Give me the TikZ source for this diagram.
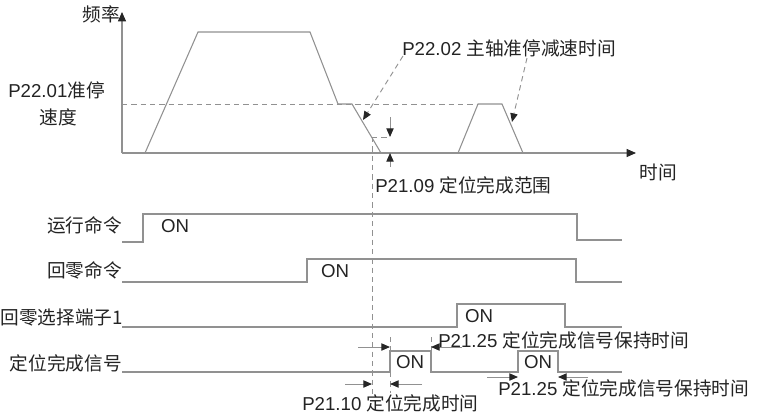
\documentclass[tikz,border=0pt]{standalone}
\usepackage{fontspec}
\setmainfont{Liberation Sans}
\newfontfamily\cjk{Noto Sans CJK SC}
\usetikzlibrary{arrows.meta,positioning,calc}
\definecolor{LineGray}{RGB}{145,145,145}
\definecolor{TextDark}{RGB}{35,35,35}
\tikzset{
  sig/.style={draw=LineGray,line width=0.8pt},
  guide/.style={draw=LineGray,line width=0.7pt,dash pattern=on 4pt off 3pt},
  arr/.style={-{Triangle[length=6.5pt,width=5.5pt,color=black!85]},
              draw=LineGray,line width=0.7pt},
  darr/.style={arr,dash pattern=on 4pt off 3pt},
  lbl/.style={text=TextDark,font=\fontsize{14}{16}\selectfont,inner sep=0pt},
}

\begin{document}
\begin{tikzpicture}[x=0.75pt,y=-0.75pt]
        \useasboundingbox (0,0) rectangle (760,415);
        \coordinate (o) at (122,153);
        \coordinate (ytop) at (122,12);
        \coordinate (xend) at (636,153);
        \draw[sig,-{Triangle[length=7pt,width=6pt,color=black!85]}] (o)--(ytop);
        \draw[sig,-{Triangle[length=7pt,width=6pt,color=black!85]}] (o)--(xend);
        \node[lbl,anchor=east] (freq) at (120,14) {\cjk 频率};
        \node[lbl] (time) at (658,172) {\cjk 时间};
        \node[lbl,anchor=west] (spd) at (8,90) {P22.01{\cjk 准停}};
        \node[lbl] (spd2) at (58,117) {\cjk 速度};
        \draw[guide] (o|-0,104)--(478,104);
        \draw[sig] (145,153)--(198,32)--(310,32)--(338,104)--(352,104)
                   --(381,153);
        \draw[sig] (458,153)--(478,104)--(502,104)--(523,153);
        \node[lbl,anchor=west] (dec) at (402,48) {P22.02 {\cjk 主轴准停减速时间}};
        \coordinate (decA) at (363,120);
        \coordinate (decB) at (512,122);
        \draw[darr] (403,56)--(decA);
        \draw[darr] (527,58)--(decB);
        \coordinate (pz) at (372,137);
        \draw[guide] (pz)--(390,137);
        \draw[guide] (pz)--(372,394);
        \draw[arr] (390,117)--(390,137);
        \draw[arr] (390,167)--(390,153);
        \node[lbl,anchor=west] (rng) at (375,185) {P21.09 {\cjk 定位完成范围}};
        \node[lbl,anchor=east] (run) at (122,225) {\cjk 运行命令};
        \node[lbl,anchor=east] (home) at (122,270) {\cjk 回零命令};
        \node[lbl,anchor=east] (sel) at (123,317) {\cjk 回零选择端子1};
        \node[lbl,anchor=east] (done) at (122,363) {\cjk 定位完成信号};
        \draw[sig] (run.east|-0,242)--(143,242)--(143,214)--(577,214)--(577,240)
                   --(622,240);
        \draw[sig] (122,282)--(307,282)--(307,259)--(576,259)--(576,282)
                   --(622,282);
        \draw[sig] (122,327)--(457,327)--(457,304)--(565,304)--(565,327)
                   --(622,327);
        \draw[sig] (122,372)--(390,372)--(390,351)--(431,351)--(431,372)
                   --(518,372)--(518,351)--(558,351)--(558,372)--(622,372);
        \node[lbl] (on1) at (175,226) {ON};
        \node[lbl] (on2) at (335,271) {ON};
        \node[lbl] (on3) at (479,316) {ON};
        \node[lbl] (on4) at (410,362) {ON};
        \node[lbl] (on5) at (538,362) {ON};
        \draw[guide] (390,337)--(390,351);
        \draw[guide] (431,337)--(431,351);
        \draw[guide] (390,372)--(390,393);
        \draw[arr] (358,347)--(390,347);
        \draw[arr] (462,347)--(431,347);
        \node[lbl,anchor=west] (hold1) at (438,340) {P21.25 {\cjk 定位完成信号保持时间}};
        \draw[arr] (345,384)--(372,384);
        \draw[arr] (422,384)--(390,384);
        \node[lbl,anchor=west] (dt) at (302,403) {P21.10 {\cjk 定位完成时间}};
        \draw[arr] (487,377)--(518,377);
        \draw[arr] (588,377)--(558,377);
        \node[lbl,anchor=west] (hold2) at (498,388) {P21.25 {\cjk 定位完成信号保持时间}};
      \end{tikzpicture}
\end{document}
